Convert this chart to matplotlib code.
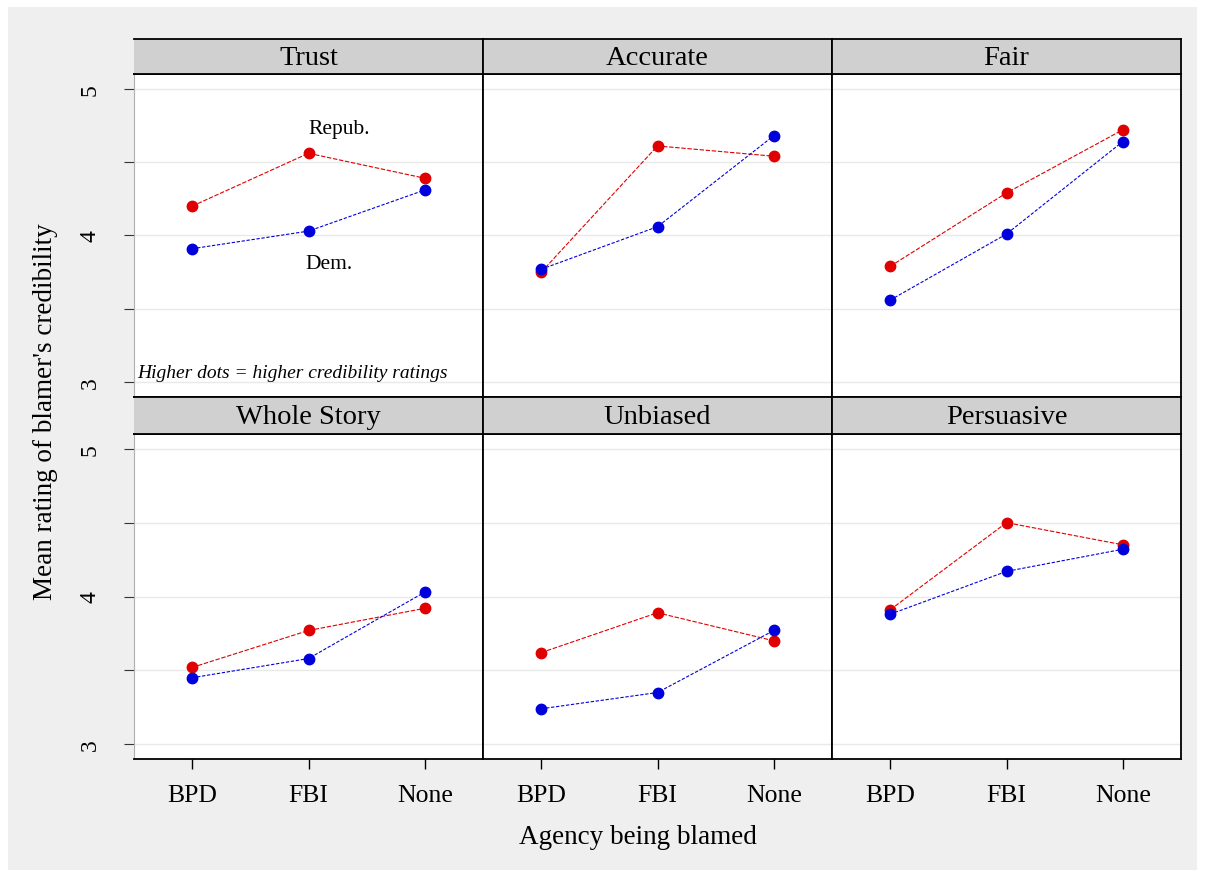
import matplotlib
matplotlib.use("Agg")
import matplotlib.pyplot as plt
from matplotlib.patches import Rectangle

plt.rcParams['font.family'] = ['Liberation Serif', 'DejaVu Serif']

# values
agencies = ["BPD", "FBI", "None"]
panels = ["Trust", "Accurate", "Fair", "Whole Story", "Unbiased", "Persuasive"]
repub = [[4.20, 4.56, 4.39],
         [3.75, 4.61, 4.54],
         [3.79, 4.29, 4.72],
         [3.52, 3.77, 3.92],
         [3.62, 3.89, 3.70],
         [3.91, 4.50, 4.35]]
dem = [[3.91, 4.03, 4.31],
       [3.77, 4.06, 4.68],
       [3.56, 4.01, 4.64],
       [3.45, 3.58, 4.03],
       [3.24, 3.35, 3.77],
       [3.88, 4.17, 4.32]]

W, H = 1206, 879
fig = plt.figure(figsize=(W / 100, H / 100), dpi=100, facecolor="white")
fig.patches.append(Rectangle((8 / W, 8 / H), 1189 / W, 863 / H, transform=fig.transFigure,
                             facecolor="#efefef", edgecolor="none", zorder=-10))

# pixel boxes: columns and rows (strip top, plot top, plot bottom)
cols = [134, 483, 832, 1181]
rows = [(40, 75, 398), (398, 435, 760)]
x = [1, 2, 3]

for i, name in enumerate(panels):
    r, c = divmod(i, 3)
    st, pt, pb = rows[r]
    x0, x1 = cols[c], cols[c + 1]
    ax = fig.add_axes([x0 / W, 1 - pb / H, (x1 - x0) / W, (pb - pt) / H])
    sx = fig.add_axes([x0 / W, 1 - pt / H, (x1 - x0) / W, (pt - st) / H])
    sx.set_facecolor("#d0d0d0")
    sx.set_xticks([])
    sx.set_yticks([])
    for s in sx.spines.values():
        s.set_color("black")
        s.set_linewidth(1.3)
    sx.spines["left"].set_visible(c != 0)
    sx.text(0.5, 0.47, name, ha="center", va="center", fontsize=20.5, transform=sx.transAxes)

    ax.plot(x, repub[i], color="#e00000", lw=0.8, ls=(0, (4, 1.5)),
            marker="o", ms=7.5, mec="#e00000", mfc="#e00000", zorder=3)
    ax.plot(x, dem[i], color="#0000dd", lw=0.8, ls=(0, (3, 1.5)),
            marker="o", ms=7.5, mec="#0000dd", mfc="#0000dd", zorder=3)

    ax.set_xlim(0.5, 3.5)
    ax.set_ylim(2.9, 5.1)
    ax.set_yticks([3, 3.5, 4, 4.5, 5])
    ax.grid(axis="y", color="#e9e9e9", lw=1)
    ax.set_axisbelow(True)
    for s in ax.spines.values():
        s.set_color("black")
        s.set_linewidth(1.3)
    if c == 0:
        ax.spines["left"].set_color("#b0b0b0")
        ax.spines["left"].set_linewidth(0.8)
        ax.set_yticklabels(["3", "", "4", "", "5"], rotation=90, va="center", fontsize=17)
        ax.tick_params(axis="y", length=7, width=0.8, color="#333333", pad=17)
    else:
        ax.tick_params(axis="y", length=0, labelleft=False)
    ax.set_xticks(x)
    if r == 1:
        ax.set_xticklabels(agencies, fontsize=18.5)
        ax.tick_params(axis="x", length=7, width=1, pad=11)
        ax.xaxis.get_major_ticks()[2].tick1line.set_color("#c8c8c8")
    else:
        ax.tick_params(axis="x", length=0, labelbottom=False)

    if i == 0:
        ax.text(2.26, 4.73, "Repub.", ha="center", va="center", fontsize=15.5)
        ax.text(2.18, 3.81, "Dem.", ha="center", va="center", fontsize=15.5)
        ax.text(0.53, 3.07, "Higher dots = higher credibility ratings", ha="left", va="center",
                fontsize=14, style="italic")

fig.text(638 / W, 1 - 838 / H, "Agency being blamed", ha="center", va="center", fontsize=19.5)
fig.text(46 / W, 1 - 412 / H, "Mean rating of blamer's credibility", ha="center", va="center",
         fontsize=19.5, rotation=90)

fig.savefig("out.png", dpi=100, facecolor=fig.get_facecolor())
